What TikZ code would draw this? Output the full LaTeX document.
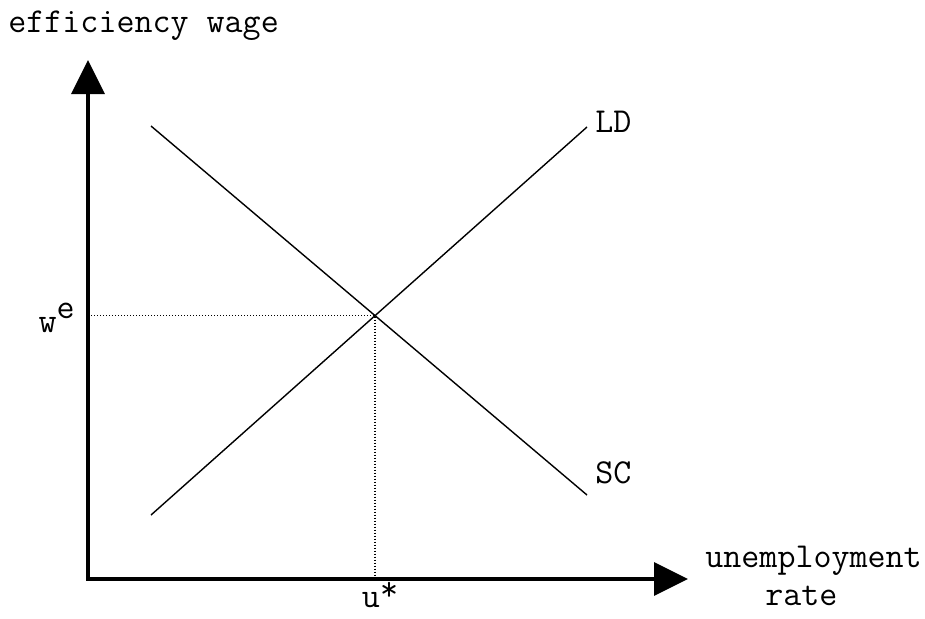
\documentclass[tikz,border=0pt]{standalone}
\usepackage{fontspec}
\usetikzlibrary{arrows.meta,intersections}
\tikzset{
  axis/.style={line width=1.7pt,{Triangle[length=17pt,width=16.5pt]}-{Triangle[length=17pt,width=16.5pt]}},
  curve/.style={line width=0.7pt},
  guide/.style={line width=0.6pt,dash pattern=on 0.6pt off 0.9pt},
  lbl/.style={font=\fontsize{17.5}{21}\selectfont\ttfamily,inner sep=0pt},
}
\begin{document}
\begin{tikzpicture}[x=0.5pt,y=-0.5pt]
  \useasboundingbox (0,0) rectangle (925,618);
  % axes
  \coordinate (O) at (88,579);
  \coordinate (ytop) at (88,60);
  \coordinate (xtip) at (688,579);
  \draw[axis] (ytop) -- (O) -- (xtip);
  % curves
  \coordinate (ld0) at (151,515);
  \coordinate (ld1) at (587,127);
  \coordinate (sc0) at (151,126);
  \coordinate (sc1) at (587,495);
  \draw[curve,name path=ld] (ld0) -- (ld1);
  \draw[curve,name path=sc] (sc0) -- (sc1);
  \path[name intersections={of=ld and sc,by=E}];
  \draw[guide] (E -| O) -- (E) -- (E |- O);
  % labels
  \node[lbl,anchor=base west] (ylab) at (8,32) {efficiency wage};
  \node[lbl,anchor=base west] (xlab) at (705,567) {unemployment};
  \node[lbl,anchor=base west] (xlab2) at (765,605) {rate};
  \node[lbl,anchor=base west] (ldlab) at (595,132) {LD};
  \node[lbl,anchor=base west] (sclab) at (595,483) {SC};
  \node[lbl,anchor=base east] (we) at (75,332) {w\raisebox{0.4em}{e}};
  \node[lbl,anchor=base] (ustar) at (380,607) {u\raisebox{0.2em}{*}};
\end{tikzpicture}
\end{document}
